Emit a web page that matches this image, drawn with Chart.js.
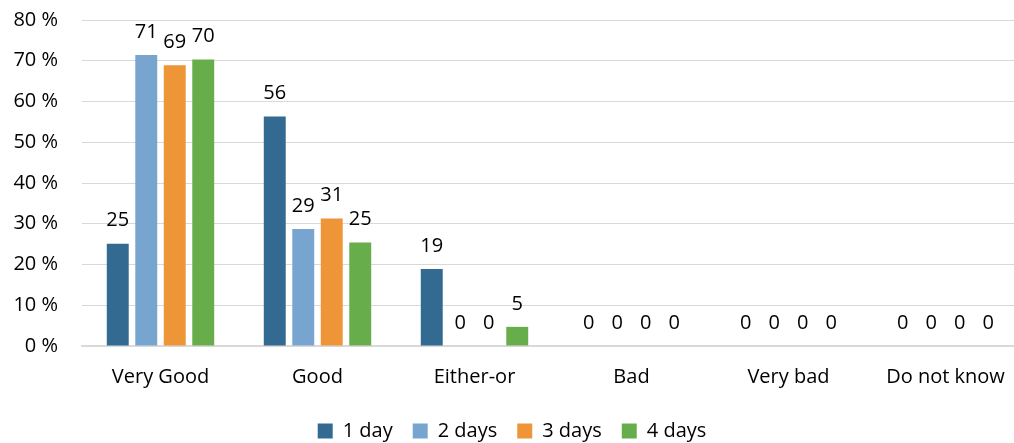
<!DOCTYPE html>
<html>
<head>
<meta charset="utf-8">
<script src="https://cdn.jsdelivr.net/npm/chart.js@4/dist/chart.umd.min.js"></script>
<style>
  html, body { margin: 0; padding: 0; background: #fff; overflow: hidden; }
  #wrap { width: 1024px; height: 443px; }
</style>
</head>
<body>
<div id="wrap"><canvas id="chart"></canvas></div>
<script>
const categories = ["Very Good", "Good", "Either-or", "Bad", "Very bad", "Do not know"];
const seriesNames = ["1 day", "2 days", "3 days", "4 days"];
const oneDay   = [25.1, 56.3, 18.9, 0, 0, 0];
const twoDays  = [71.4, 28.7, 0, 0, 0, 0];
const threeDays = [68.9, 31.3, 0, 0, 0, 0];
const fourDays = [70.3, 25.4, 4.7, 0, 0, 0];
const yTicks = [0, 10, 20, 30, 40, 50, 60, 70, 80];

const colors = ["#336a92", "#78a5cf", "#ee9537", "#68ad4c"];
const font = "'Open Sans', Lato, sans-serif";

// labels above each bar, rounded
const barLabels = {
    id: 'barLabels',
    afterDatasetsDraw(chart) {
        const ctx = chart.ctx;
        ctx.save();
        ctx.font = "20px " + font;
        ctx.fillStyle = "#000";
        ctx.textAlign = "center";
        ctx.textBaseline = "middle";
        chart.data.datasets.forEach((ds, i) => {
            chart.getDatasetMeta(i).data.forEach((bar, j) => {
                ctx.fillText(Math.round(ds.data[j]), bar.x, bar.y - 23);
            });
        });
        ctx.restore();
    }
};

const ctxChart = document.getElementById('chart');

new Chart(ctxChart, {
    type: 'bar',
    data: {
        labels: categories,
        datasets: [oneDay, twoDays, threeDays, fourDays].map((d, i) => ({
            label: seriesNames[i],
            data: d,
            backgroundColor: colors[i],
            categoryPercentage: 0.726,
            barPercentage: 0.77
        }))
    },
    options: {
        responsive: true,
        maintainAspectRatio: false,
        animation: false,
        layout: {
            padding: { top: 20, left: 0, right: 0, bottom: -8 }
        },
        scales: {
            x: {
                afterFit(axis) {
                    axis.height = 55;
                },
                grid: { display: false, drawTicks: false },
                border: { color: "#d9d9d9", width: 2 },
                ticks: {
                    color: "#000",
                    font: { family: font, size: 20 },
                    padding: 19,
                    maxRotation: 0
                }
            },
            y: {
                min: 0,
                max: 80,
                afterBuildTicks(axis) {
                    axis.ticks = yTicks.map(v => ({ value: v }));
                },
                afterFit(axis) {
                    axis.width = 82;
                    axis.paddingTop = 0;
                    axis.paddingBottom = 0;
                },
                grid: { color: "#d9d9d9", drawTicks: false },
                border: { display: false },
                ticks: {
                    color: "#000",
                    font: { family: font, size: 20 },
                    padding: 24,
                    callback: v => v + " %"
                }
            }
        },
        plugins: {
            legend: {
                position: 'bottom',
                labels: {
                    color: "#000",
                    font: { family: font, size: 20 },
                    boxWidth: 15,
                    boxHeight: 15,
                    padding: 20
                }
            },
            tooltip: { enabled: false }
        }
    },
    plugins: [barLabels]
});
</script>
</body>
</html>
